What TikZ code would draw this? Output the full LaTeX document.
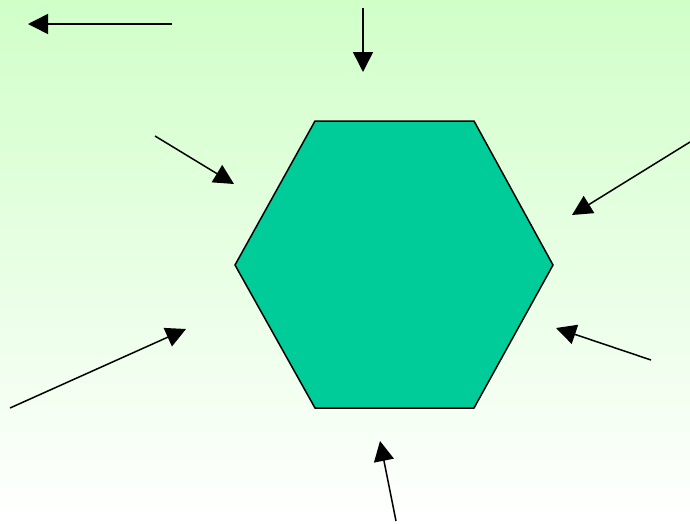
\documentclass[tikz,border=0pt]{standalone}
\usetikzlibrary{arrows.meta}
\definecolor{bgtop}{RGB}{208,255,200}
\definecolor{hexfill}{RGB}{0,204,153}
\tikzset{
  arr/.style={line width=1.5pt,-{Triangle[length=20pt,width=20pt]}},
  hexstyle/.style={fill=hexfill,draw=black,line width=1.5pt,line join=miter}
}
\begin{document}
\begin{tikzpicture}[x=1pt,y=-1pt]
\shade[top color=bgtop,bottom color=white] (0,0) rectangle (690,523);
\useasboundingbox (0,0) rectangle (690,523);
\coordinate (h1) at (315,121);
\coordinate (h2) at (474,121);
\coordinate (h3) at (553,265);
\coordinate (h4) at (474,408);
\coordinate (h5) at (315,408);
\coordinate (h6) at (235,265);
\draw[hexstyle] (h1) -- (h2) -- (h3) -- (h4) -- (h5) -- (h6) -- cycle;
\coordinate (a1s) at (172,24);  \coordinate (a1e) at (28,24);
\coordinate (a2s) at (363,8);   \coordinate (a2e) at (363,72);
\coordinate (a3s) at (155,136); \coordinate (a3e) at (234,184);
\coordinate (a4s) at (690,142); \coordinate (a4e) at (572,215);
\coordinate (a5s) at (10,408);  \coordinate (a5e) at (186,329);
\coordinate (a6s) at (651,360); \coordinate (a6e) at (556,328);
\coordinate (a7s) at (396,521); \coordinate (a7e) at (380,441);
\draw[arr] (a1s) -- (a1e);
\draw[arr] (a2s) -- (a2e);
\draw[arr] (a3s) -- (a3e);
\draw[arr] (a4s) -- (a4e);
\draw[arr] (a5s) -- (a5e);
\draw[arr] (a6s) -- (a6e);
\draw[arr] (a7s) -- (a7e);
\end{tikzpicture}
\end{document}
